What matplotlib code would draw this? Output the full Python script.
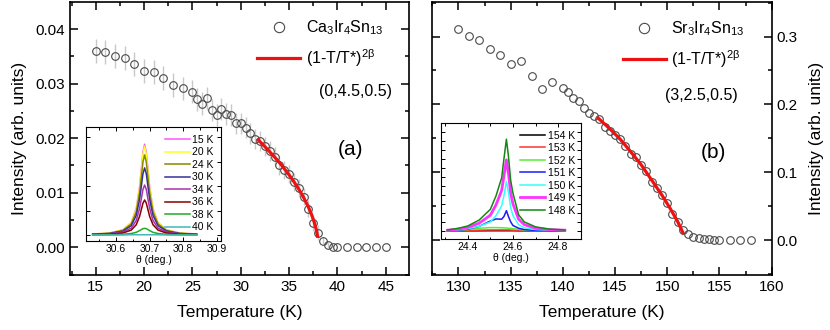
import matplotlib
matplotlib.use("Agg")
import matplotlib.pyplot as plt
from matplotlib.ticker import MultipleLocator

plt.rcParams['font.family'] = ['Liberation Sans', 'DejaVu Sans']
plt.rcParams['mathtext.default'] = 'regular'

# ---------------- data: panel (a) ----------------
temp_a = [15, 16, 17, 18, 19, 20, 21, 22, 23, 24, 25, 25.5, 26, 26.5, 27, 27.5, 28, 28.5,
          29, 29.5, 30, 30.5, 31, 31.5, 32, 32.5, 33, 33.5, 34, 34.5, 35, 35.5, 36, 36.5,
          37, 37.5, 38, 38.5, 39, 39.5, 40, 41, 42, 43, 44, 45]
int_a = [0.0360, 0.0357, 0.0350, 0.0346, 0.0336, 0.0323, 0.0322, 0.0311, 0.0298, 0.0291,
         0.0285, 0.0271, 0.0263, 0.0273, 0.0252, 0.0242, 0.0253, 0.0244, 0.0242, 0.0227,
         0.0227, 0.0219, 0.0209, 0.0198, 0.0195, 0.0185, 0.0177, 0.0166, 0.0150, 0.0142,
         0.0134, 0.0120, 0.0109, 0.0093, 0.0071, 0.0044, 0.0027, 0.0012, 0.0004, 0.0,
         0.0, 0.0, 0.0, 0.0, 0.0, 0.0]
err_a = [0.0022, 0.0022, 0.0022, 0.0022, 0.0022, 0.0022, 0.0022, 0.0022, 0.0022, 0.0021,
         0.0021, 0.0021, 0.0021, 0.0021, 0.0020, 0.0020, 0.0020, 0.0020, 0.0020, 0.0019,
         0.0019, 0.0019, 0.0019, 0.0018, 0.0018, 0.0018, 0.0018, 0.0017, 0.0017, 0.0017,
         0.0016, 0.0016, 0.0016, 0.0015, 0.0015, 0.0015, 0.0014, 0.0006, 0.0005, 0.0004,
         0.0, 0.0, 0.0, 0.0, 0.0, 0.0]
fit_t_a = [31.8, 32.5, 33, 33.5, 34, 34.5, 35, 35.5, 36, 36.5, 37, 37.3, 37.6, 37.8, 37.95]
fit_i_a = [0.0197, 0.01845, 0.0175, 0.01655, 0.01553, 0.01443, 0.01328, 0.01203, 0.01068,
           0.00915, 0.00739, 0.00613, 0.00464, 0.00335, 0.00203]

# ---------------- data: panel (b) ----------------
temp_b = [130, 131, 132, 133, 134, 135, 136, 137, 138, 139, 140, 140.5, 141, 141.5, 142,
          142.5, 143, 143.5, 144, 144.5, 145, 145.5, 146, 146.5, 147, 147.5, 148, 148.5,
          149, 149.5, 150, 150.5, 151, 151.5, 152, 152.5, 153, 153.5, 154, 154.5, 155,
          156, 157, 158]
int_b = [0.311, 0.3015, 0.295, 0.281, 0.273, 0.260, 0.264, 0.242, 0.223, 0.233, 0.224,
         0.218, 0.210, 0.205, 0.195, 0.187, 0.1825, 0.1785, 0.166, 0.161, 0.155, 0.1486,
         0.138, 0.127, 0.123, 0.111, 0.102, 0.086, 0.076, 0.066, 0.054, 0.039, 0.027,
         0.0147, 0.0089, 0.0049, 0.0025, 0.0015, 0.001, 0.0, 0.0, 0.0, 0.0, 0.0]
fit_t_b = [143.4, 144.5, 145.5, 146.4, 147.5, 148.5, 149.5, 150.3, 151.0, 151.5]
fit_i_b = [0.1795, 0.164, 0.1485, 0.132, 0.111, 0.0885, 0.066, 0.046, 0.027, 0.0108]

# ---------------- inset (a): theta scans ----------------
theta_a = [30.53, 30.58, 30.62, 30.645, 30.66, 30.67, 30.675, 30.68, 30.685, 30.69,
           30.695, 30.70, 30.71, 30.725, 30.75, 30.79, 30.84]
labels_ia = ['15 K', '20 K', '24 K', '30 K', '34 K', '36 K', '38 K', '40 K']
colors_ia = ['#ff55ff', '#ffff22', '#888800', '#333399', '#aa33aa', '#880000', '#22aa22', '#44b8b8']
scan_15 = [0.04, 0.08, 0.21, 0.51, 1.08, 1.97, 2.67, 3.38, 3.71, 3.38, 2.67, 1.97, 1.08, 0.51, 0.21, 0.08, 0.04]
scan_20 = [0.04, 0.08, 0.21, 0.50, 1.05, 1.93, 2.60, 3.30, 3.62, 3.30, 2.60, 1.93, 1.05, 0.50, 0.21, 0.08, 0.04]
scan_24 = [0.03, 0.07, 0.19, 0.45, 0.95, 1.74, 2.35, 2.98, 3.27, 2.98, 2.35, 1.74, 0.95, 0.45, 0.19, 0.07, 0.03]
scan_30 = [0.03, 0.06, 0.16, 0.38, 0.80, 1.46, 1.97, 2.50, 2.74, 2.50, 1.97, 1.46, 0.80, 0.38, 0.16, 0.06, 0.03]
scan_34 = [0.02, 0.05, 0.12, 0.28, 0.59, 1.09, 1.47, 1.86, 2.04, 1.86, 1.47, 1.09, 0.59, 0.28, 0.12, 0.05, 0.02]
scan_36 = [0.02, 0.03, 0.08, 0.20, 0.42, 0.76, 1.03, 1.30, 1.43, 1.30, 1.03, 0.76, 0.42, 0.20, 0.08, 0.03, 0.02]
scan_38 = [0.0, 0.01, 0.03, 0.06, 0.11, 0.18, 0.22, 0.26, 0.27, 0.26, 0.22, 0.18, 0.11, 0.06, 0.03, 0.01, 0.0]
scan_40 = [0.0, 0.0, 0.0, 0.01, 0.01, 0.01, 0.01, 0.01, 0.01, 0.01, 0.01, 0.01, 0.01, 0.01, 0.0, 0.0, 0.0]
scans_a = [scan_15, scan_20, scan_24, scan_30, scan_34, scan_36, scan_38, scan_40]

# ---------------- inset (b): theta scans ----------------
theta_b = [24.31, 24.36, 24.40, 24.45, 24.50, 24.525, 24.55, 24.56, 24.571, 24.58, 24.59,
           24.60, 24.625, 24.65, 24.70, 24.76, 24.83]
labels_ib = ['154 K', '153 K', '152 K', '151 K', '150 K', '149 K', '148 K']
colors_ib = ['#000000', '#ff3030', '#55ee33', '#1a1aff', '#33ffff', '#ff33ff', '#118811']
scan_154 = [0.0, 0.0, 0.01, 0.01, 0.02, 0.02, 0.02, 0.02, 0.02, 0.02, 0.02, 0.02, 0.01, 0.01, 0.0, 0.0, 0.0]
scan_153 = [0.0, 0.02, 0.05, 0.08, 0.10, 0.10, 0.10, 0.10, 0.10, 0.10, 0.09, 0.08, 0.06, 0.04, 0.02, 0.0, 0.0]
scan_152 = [0.0, 0.05, 0.15, 0.30, 0.37, 0.37, 0.35, 0.33, 0.32, 0.30, 0.28, 0.25, 0.18, 0.10, 0.04, 0.01, 0.0]
scan_151 = [0.02, 0.08, 0.2, 0.5, 1.1, 1.33, 1.3, 1.6, 2.25, 1.6, 1.0, 0.6, 0.3, 0.15, 0.05, 0.02, 0.0]
scan_150 = [0.05, 0.12, 0.25, 0.5, 1.0, 1.7, 2.8, 3.9, 5.5, 4.3, 2.6, 1.7, 0.7, 0.35, 0.15, 0.08, 0.05]
scan_149 = [0.08, 0.2, 0.4, 0.85, 1.75, 2.9, 4.5, 6.1, 7.9, 6.4, 4.2, 3.0, 1.3, 0.7, 0.3, 0.15, 0.08]
scan_148 = [0.1, 0.3, 0.55, 1.2, 2.4, 3.9, 5.9, 8.0, 10.2, 8.3, 5.6, 4.2, 1.8, 1.0, 0.45, 0.2, 0.1]
scans_b = [scan_154, scan_153, scan_152, scan_151, scan_150, scan_149, scan_148]

# ---------------- figure ----------------
fig = plt.figure(figsize=(8.3, 3.3), dpi=100)
ax1 = fig.add_axes([70/830, 55/330, 339/830, 273/330])
ax2 = fig.add_axes([432.3/830, 55/330, 339.4/830, 273/330])

marker_kw = dict(marker='o', ms=5.5, mfc='none', mec='#4a4a4a', mew=0.8, ls='none')
leg_kw = dict(loc='upper right', frameon=False, fontsize=11.5, handlelength=2.7,
              handletextpad=0.35, labelspacing=0.62, borderaxespad=0, borderpad=0,
              markerscale=1.35)

# panel a
ax1.errorbar(temp_a, int_a, yerr=err_a, fmt='none', ecolor='#c8c8c8', elinewidth=1.0, zorder=1)
ax1.plot(temp_a, int_a, label='Ca$_3$Ir$_4$Sn$_{13}$', zorder=2, **marker_kw)
ax1.plot(fit_t_a, fit_i_a, color='#ee1111', lw=2.3, label='(1-T/T*)$^{2β}$', zorder=3)
ax1.set_xlim(12.34, 47.41)
ax1.set_ylim(-0.00508, 0.04495)
ax1.xaxis.set_major_locator(MultipleLocator(5))
ax1.xaxis.set_minor_locator(MultipleLocator(2.5))
ax1.set_yticks([0.0, 0.01, 0.02, 0.03, 0.04])
ax1.set_yticklabels(['0.00', '0.01', '0.02', '0.03', '0.04'])
ax1.yaxis.set_minor_locator(MultipleLocator(0.005))
ax1.set_xlabel('Temperature (K)', fontsize=12.5, labelpad=8)
ax1.set_ylabel('Intensity (arb. units)', fontsize=12.5, labelpad=6)
ax1.text(0.842, 0.671, '(0,4.5,0.5)', transform=ax1.transAxes, fontsize=11.5, ha='center', va='center')
ax1.text(0.826, 0.458, '(a)', transform=ax1.transAxes, fontsize=15, ha='center', va='center')
ax1.legend(bbox_to_anchor=(0.925, 0.94), **leg_kw)

# panel b
ax2.plot(temp_b, int_b, label='Sr$_3$Ir$_4$Sn$_{13}$', zorder=2, **marker_kw)
ax2.plot(fit_t_b, fit_i_b, color='#ee1111', lw=2.3, label='(1-T/T*)$^{2β}$', zorder=3)
ax2.set_xlim(127.5, 160)
ax2.set_ylim(-0.0516, 0.351)
ax2.xaxis.set_major_locator(MultipleLocator(5))
ax2.xaxis.set_minor_locator(MultipleLocator(2.5))
ax2.set_yticks([0.0, 0.1, 0.2, 0.3])
ax2.set_yticklabels(['0.0', '0.1', '0.2', '0.3'])
ax2.yaxis.set_minor_locator(MultipleLocator(0.05))
ax2.set_xlabel('Temperature (K)', fontsize=12.5, labelpad=8)
ax2.yaxis.set_label_position('right')
ax2.set_ylabel('Intensity (arb. units)', fontsize=12.5, labelpad=8, rotation=90)
ax2.text(0.792, 0.659, '(3,2.5,0.5)', transform=ax2.transAxes, fontsize=11.5, ha='center', va='center')
ax2.text(0.827, 0.447, '(b)', transform=ax2.transAxes, fontsize=15, ha='center', va='center')
ax2.legend(bbox_to_anchor=(0.92, 0.935), **leg_kw)

for ax in (ax1, ax2):
    for s in ax.spines.values():
        s.set_linewidth(1.2)
    ax.tick_params(which='both', direction='in', top=True, right=True, left=True, bottom=True,
                   labelsize=11, width=1.1)
    ax.tick_params(which='major', length=5.5)
    ax.tick_params(which='minor', length=3)
ax2.tick_params(labelleft=False, labelright=True)

# inset a
ia = fig.add_axes([86/830, (330-241)/330, 135/830, 114/330])
for th_y, lab, col in zip(scans_a, labels_ia, colors_ia):
    ia.plot(theta_a, th_y, color=col, lw=1.1, label=lab)
ia.set_xlim(30.51, 30.913)
ia.set_ylim(-0.245, 4.41)
ia.set_xticks([30.6, 30.7, 30.8, 30.9])
ia.xaxis.set_minor_locator(MultipleLocator(0.05))
ia.set_yticks([0, 1, 2, 3, 4])
ia.set_yticklabels([])
ia.set_xlabel('θ (deg.)', fontsize=7.5, labelpad=1)
ia.legend(loc='upper right', bbox_to_anchor=(0.945, 0.93), frameon=False, fontsize=7.5,
          handlelength=2.4, handletextpad=0.2, labelspacing=0.24, borderaxespad=0, borderpad=0)

# inset b
ib = fig.add_axes([440.7/830, (330-239)/330, 140/830, 116/330])
for th_y, lab, col in zip(scans_b, labels_ib, colors_ib):
    lw = 2.0 if lab == '149 K' else 1.1
    ib.plot(theta_b, th_y, color=col, lw=lw, label=lab)
ib.set_xlim(24.28, 24.90)
ib.set_ylim(-0.9, 12.0)
ib.set_xticks([24.4, 24.6, 24.8])
ib.xaxis.set_minor_locator(MultipleLocator(0.1))
ib.set_yticks(list(range(0, 13)))
ib.set_yticklabels([])
ib.set_xlabel('θ (deg.)', fontsize=7.5, labelpad=1)
ib.legend(loc='upper right', bbox_to_anchor=(0.96, 0.935), frameon=False, fontsize=7.5,
          handlelength=2.4, handletextpad=0.25, labelspacing=0.24, borderaxespad=0, borderpad=0)

for ax in (ia, ib):
    for s in ax.spines.values():
        s.set_linewidth(0.8)
    ax.tick_params(which='both', direction='in', top=True, right=True, labelsize=7.5,
                   width=0.7, pad=2)
    ax.tick_params(which='major', length=3)
    ax.tick_params(which='minor', length=1.8)

fig.savefig('out.png', dpi=100)
